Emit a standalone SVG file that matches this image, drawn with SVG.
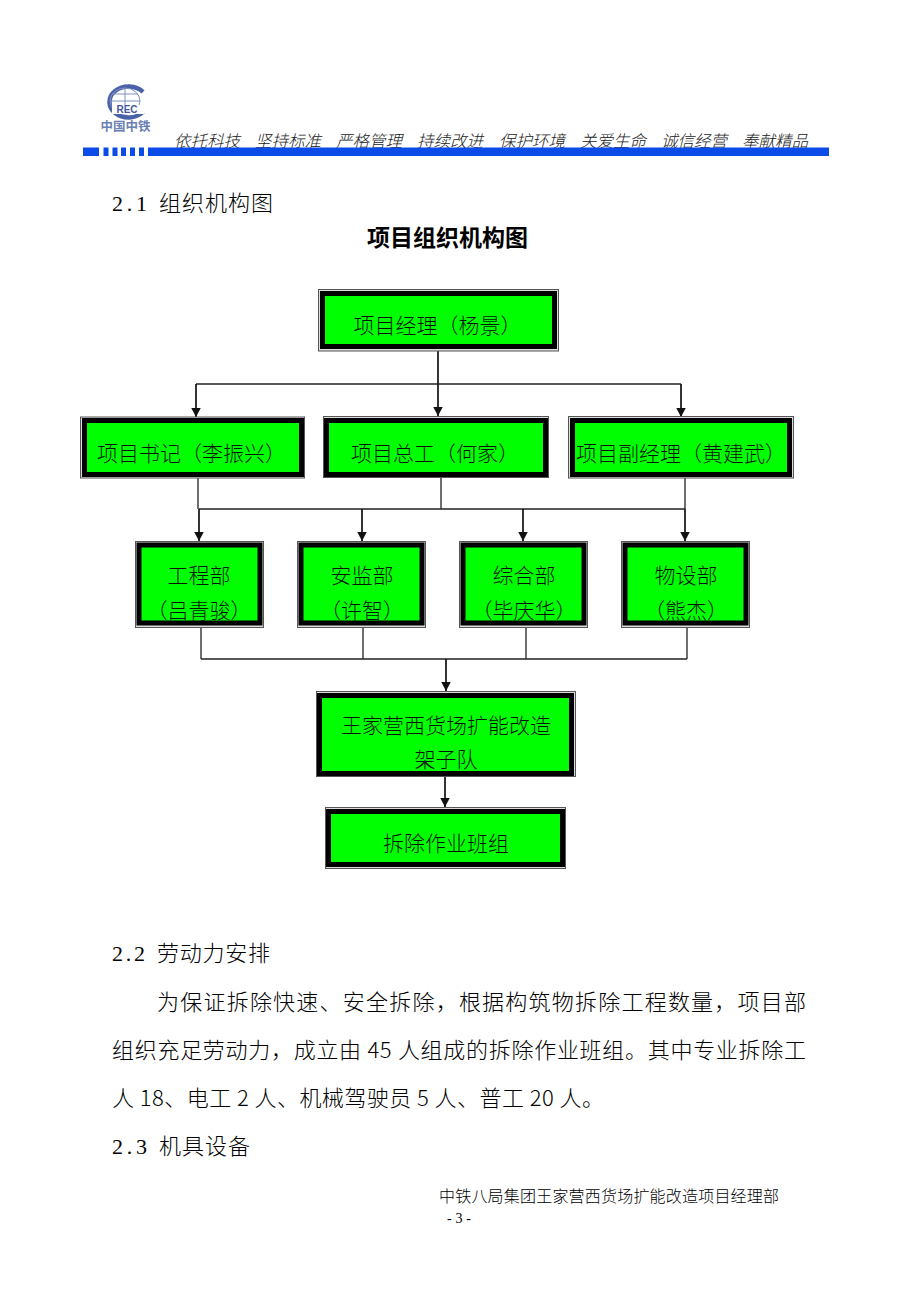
<svg xmlns="http://www.w3.org/2000/svg" width="920" height="1302" viewBox="0 0 920 1302">
<defs>
<style>
text{font-family:"Noto Sans CJK SC",sans-serif;fill:#000}
.n{font-size:21px;fill:#031503;text-anchor:middle;font-weight:300}
.b{font-size:22px;font-weight:300}
.d{font-size:22px;font-family:"Liberation Serif","Noto Sans CJK SC",serif}
.h{font-size:16.500px;font-style:italic;font-weight:300;fill:#222}
.o{fill:#ddd;stroke:#555;stroke-width:1}
.g{fill:#0f0;stroke:#000;stroke-width:5}
.c{fill:none;stroke:#222;stroke-width:1.300}
.a{fill:none;stroke:#111;stroke-width:1.700;marker-end:url(#ah)}
</style>
<marker id="ah" markerUnits="userSpaceOnUse" markerWidth="10" markerHeight="10" refX="9.500" refY="5" orient="auto"><path d="M0 0L9.500 5L0 10Z" fill="#111"/></marker>
</defs>
<rect width="920" height="1302" fill="#fff"/>
<g id="logo">
<path d="M143 92A19 15.500 0 1 0 143 112" fill="none" stroke="#4a63a8" stroke-width="4.500"/>
<ellipse cx="125" cy="101" rx="15" ry="13" fill="none" stroke="#7f90c2" stroke-width="1"/>
<path d="M110 101H140M112 94H138M125 88V108" fill="none" stroke="#7f90c2" stroke-width="1"/>
<rect x="112" y="105" width="32" height="9" fill="#fff"/>
<text x="127" y="113" font-size="10" font-weight="700" text-anchor="middle" style="fill:#44599f;font-family:'Liberation Sans',sans-serif">REC</text>
<text x="125.500" y="131" font-size="12.500" font-weight="700" text-anchor="middle" style="fill:#6c7fb4">中国中铁</text>
</g>
<g id="slogan">
<text class="h" x="174" y="147">依托科技</text>
<text class="h" x="255" y="147">坚持标准</text>
<text class="h" x="336" y="147">严格管理</text>
<text class="h" x="417" y="147">持续改进</text>
<text class="h" x="499" y="147">保护环境</text>
<text class="h" x="580" y="147">关爱生命</text>
<text class="h" x="661" y="147">诚信经营</text>
<text class="h" x="742" y="147">奉献精品</text>
</g>
<g id="bar" fill="#0b4be8">
<rect x="83" y="147.500" width="16" height="8.500"/>
<rect x="103.500" y="147.500" width="5" height="8.500"/>
<rect x="112.500" y="147.500" width="5" height="8.500"/>
<rect x="121" y="147.500" width="5" height="8.500"/>
<rect x="130" y="147.500" width="5" height="8.500"/>
<rect x="139" y="147.500" width="5" height="8.500"/>
<rect x="148" y="147.500" width="681" height="8.500"/>
</g>
<g id="headings">
<text class="d" x="112" y="211" textLength="35">2.1</text>
<text class="b" x="159" y="211" textLength="114">组织机构图</text>
<text x="447.500" y="246" font-size="23" font-weight="700" text-anchor="middle">项目组织机构图</text>
</g>
<g id="connectors">
<path class="c" d="M196 384H681"/>
<path class="a" d="M438 351V416"/>
<path class="a" d="M196 384V417"/>
<path class="a" d="M681 384V417"/>
<path class="c" d="M198 478V509M441 478V509M685 478V509M199 509H685"/>
<path class="a" d="M199 509V541"/>
<path class="a" d="M362 509V541"/>
<path class="a" d="M523 509V541"/>
<path class="a" d="M685 509V541"/>
<path class="c" d="M201 628V659M363 628V659M526 628V659M687 628V659M201 659H687"/>
<path class="a" d="M446 659V691"/>
<path class="a" d="M445 777V807"/>
</g>
<g id="n1"><rect class="o" x="318.500" y="289.500" width="240" height="61.500"/><rect class="g" x="322.500" y="293.500" width="232" height="53"/><text class="n" x="437.500" y="333">项目经理（杨景）</text></g>
<g id="n2"><rect class="o" x="80.500" y="417" width="224" height="61"/><rect class="g" x="84.500" y="420.500" width="217" height="54"/><text class="n" x="191.500" y="461">项目书记（李振兴）</text></g>
<g id="n3"><rect class="o" x="323.500" y="416.500" width="225" height="61"/><rect class="g" x="326.500" y="420.500" width="219" height="54"/><text class="n" x="435" y="461">项目总工（何家）</text></g>
<g id="n4"><rect class="o" x="568.500" y="416.500" width="225" height="61.500"/><rect class="g" x="572.500" y="420.500" width="217" height="54"/><text class="n" x="681" y="461">项目副经理（黄建武）</text></g>
<g id="n5"><rect class="o" x="135.500" y="541.500" width="128" height="86"/><rect class="g" x="139" y="545" width="121" height="78"/><text class="n" x="199" y="583">工程部</text><text class="n" x="199" y="618">（吕青骏）</text></g>
<g id="n6"><rect class="o" x="297.500" y="541.500" width="128" height="86"/><rect class="g" x="301" y="545" width="121" height="78"/><text class="n" x="362" y="583">安监部</text><text class="n" x="362" y="618">（许智）</text></g>
<g id="n7"><rect class="o" x="459.500" y="541.500" width="128" height="86"/><rect class="g" x="463" y="545" width="121" height="78"/><text class="n" x="524" y="583">综合部</text><text class="n" x="524" y="618">（毕庆华）</text></g>
<g id="n8"><rect class="o" x="621.500" y="541.500" width="128" height="86"/><rect class="g" x="625" y="545" width="121" height="78"/><text class="n" x="686" y="583">物设部</text><text class="n" x="686" y="618">（熊杰）</text></g>
<g id="n9"><rect class="o" x="316.500" y="691.500" width="259" height="85"/><rect class="g" x="319.500" y="695.500" width="252" height="78"/><text class="n" x="446" y="733">王家营西货场扩能改造</text><text class="n" x="446" y="767">架子队</text></g>
<g id="n10"><rect class="o" x="325.500" y="807.500" width="240" height="61"/><rect class="g" x="328.500" y="811.500" width="234" height="53"/><text class="n" x="446" y="851">拆除作业班组</text></g>
<g id="body">
<text class="d" x="112" y="961" textLength="33">2.2</text>
<text class="b" x="157" y="961" textLength="113">劳动力安排</text>
<text class="b" x="157" y="1010" textLength="649">为保证拆除快速、安全拆除，根据构筑物拆除工程数量，项目部</text>
<text class="b" x="112" y="1058" textLength="694">组织充足劳动力，成立由 45 人组成的拆除作业班组。其中专业拆除工</text>
<text class="b" x="112" y="1106" textLength="492">人 18、电工 2 人、机械驾驶员 5 人、普工 20 人。</text>
<text class="d" x="112" y="1154" textLength="35">2.3</text>
<text class="b" x="159" y="1154" textLength="91">机具设备</text>
</g>
<g id="footer">
<text x="439" y="1202" font-size="16" textLength="340" font-weight="300">中铁八局集团王家营西货场扩能改造项目经理部</text>
<text x="447" y="1223" font-size="14" textLength="24" style="font-family:'Liberation Serif',serif">- 3 -</text>
</g>
</svg>
